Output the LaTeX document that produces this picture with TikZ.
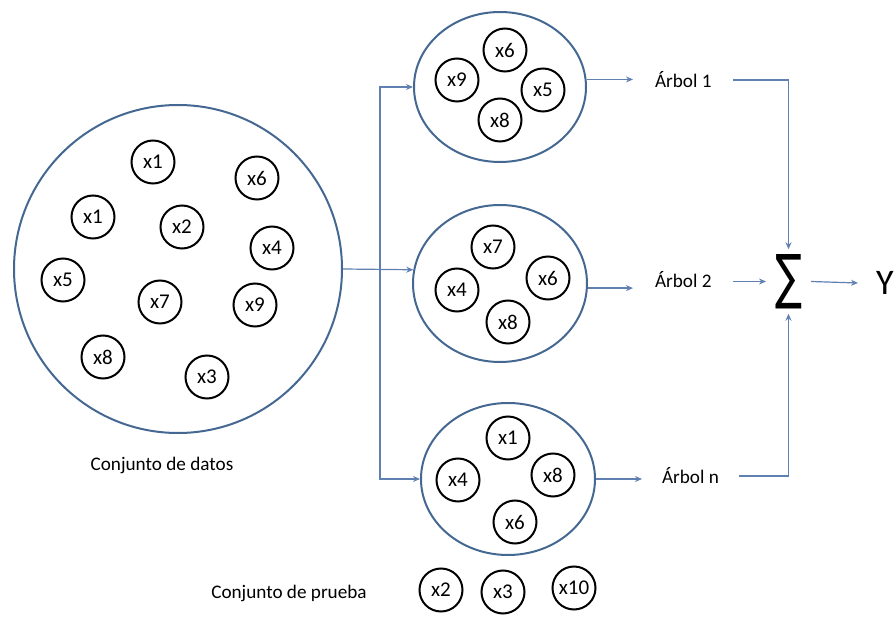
\documentclass[tikz,border=0pt]{standalone}
\usepackage{fontspec}
\usepackage{graphicx}
\setmainfont{Carlito}
\newfontfamily\simbolos{DejaVu Sans}
\usetikzlibrary{arrows.meta,shapes.geometric}

\definecolor{borde}{RGB}{68,104,146}
\definecolor{flecha}{RGB}{96,128,178}

\begin{document}
\begin{tikzpicture}[x=0.5pt,y=-0.5pt,
        muestra/.style={circle,draw=black,line width=1pt,minimum size=21.5pt,inner sep=0pt,font=\fontsize{10.5}{12}\selectfont},
        bolsa/.style={ellipse,draw=borde,line width=1pt,inner sep=0pt},
        etiqueta/.style={inner sep=0pt,font=\fontsize{9.6}{12}\selectfont},
        flujo/.style={draw=flecha,line width=0.6pt,-{Stealth[length=3.5pt,width=3pt]}}]
    \useasboundingbox (0,0) rectangle (896,620);

    % conjunto de datos completo
    \node[circle,draw=borde,line width=1pt,minimum size=164pt,inner sep=0pt] (datos) at (178,269) {};
    \node[muestra] (d1) at (153,162) {x1};
    \node[muestra] (d2) at (257,178) {x6};
    \node[muestra] (d3) at (93,217) {x1};
    \node[muestra] (d4) at (182,227) {x2};
    \node[muestra] (d5) at (272,248) {x4};
    \node[muestra] (d6) at (63,280) {x5};
    \node[muestra] (d7) at (160,302) {x7};
    \node[muestra] (d8) at (255,305) {x9};
    \node[muestra] (d9) at (103,357) {x8};
    \node[muestra] (d10) at (207,377) {x3};
    \node[etiqueta] (conjdatos) at (162,465) {Conjunto de datos};

    % muestras bootstrap
    \node[bolsa,minimum width=86pt,minimum height=75pt] (arbolA) at (500,87) {};
    \node[muestra] (a1) at (505,50) {x6};
    \node[muestra] (a2) at (457,80) {x9};
    \node[muestra] (a3) at (543,90) {x5};
    \node[muestra] (a4) at (500,120) {x8};

    \node[bolsa,minimum width=87pt,minimum height=78.5pt] (arbolB) at (500,283.5) {};
    \node[muestra] (b1) at (493,247) {x7};
    \node[muestra] (b2) at (457,290) {x4};
    \node[muestra] (b3) at (548,278) {x6};
    \node[muestra] (b4) at (508,322) {x8};

    \node[bolsa,minimum width=87pt,minimum height=76pt] (arbolC) at (508,479) {};
    \node[muestra] (c1) at (508,438) {x1};
    \node[muestra] (c2) at (458,480) {x4};
    \node[muestra] (c3) at (553,475) {x8};
    \node[muestra] (c4) at (515,522) {x6};

    % conjunto de prueba
    \node[etiqueta] (conjprueba) at (289,593) {Conjunto de prueba};
    \node[muestra] (p1) at (441,590) {x2};
    \node[muestra] (p2) at (503,592) {x3};
    \node[muestra] (p3) at (574,588) {x10};

    % arboles y suma
    \node[etiqueta,anchor=west,outer xsep=11pt] (lab1) at (633,80) {Árbol 1};
    \node[etiqueta,anchor=west,outer xsep=11pt] (lab2) at (633,280) {Árbol 2};
    \node[etiqueta,anchor=west,outer xsep=10pt] (labn) at (642,476) {Árbol n};
    \node[inner sep=0pt,outer xsep=4.5pt,outer ysep=2.5pt] (suma) at (788.5,281.5) {\resizebox{13.5pt}{21.5pt}{\simbolos ∑}};
    \node[anchor=west,inner sep=0pt,outer xsep=9pt,font=\fontsize{18}{20}\selectfont] (salida) at (858,283) {Y};

    \coordinate (reparto) at (380,270);
    \draw[flujo] (datos.east) -- (arbolB.171);
    \draw[flujo] (reparto) |- (arbolA.west);
    \draw[flujo] (reparto) |- (arbolC.west);

    \draw[flujo] (arbolA.5) -- (arbolA.5 -| lab1.west);
    \draw[flujo] (arbolB.-3) -- (arbolB.-3 -| lab2.west);
    \draw[flujo] (arbolC.east) -- (arbolC.east -| labn.west);

    \draw[flujo] (lab1.east) -| (suma.north);
    \draw[flujo] (suma.west -| lab2.east) -- (suma.west);
    \draw[flujo] (labn.east) -| (suma.south);
    \draw[flujo] (suma.east) -- (salida.west);
\end{tikzpicture}
\end{document}
